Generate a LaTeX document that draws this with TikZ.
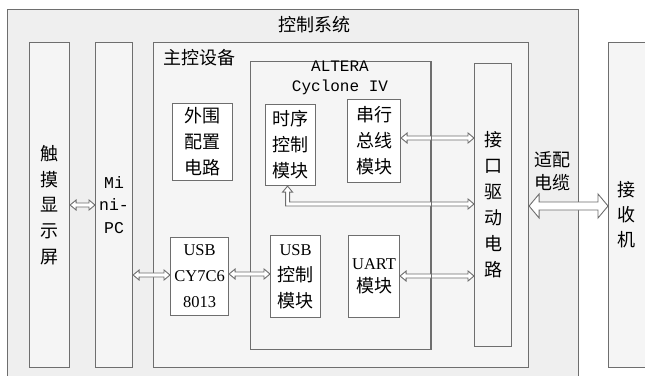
\documentclass[tikz,border=0pt]{standalone}
\usepackage{fontspec}
\setmainfont{Liberation Serif}
\newfontfamily\cjk{Noto Sans CJK SC}
\newfontfamily\mono{Liberation Mono}
\usetikzlibrary{calc}
\definecolor{edge}{HTML}{6E6E6E}
\definecolor{outerfill}{HTML}{EFEFEF}
\definecolor{bigfill}{HTML}{F5F5F5}
\tikzset{
  box/.style={draw=edge, line width=1.1pt, fill=white, inner sep=0pt, align=center,
    anchor=north west, font=\cjk\fontsize{18}{26}\selectfont},
  bigbox/.style={box, fill=bigfill},
  lbl/.style={inner sep=0pt, font=\cjk\fontsize{18}{22}\selectfont},
  arr/.style={draw=edge, fill=white, line width=0.9pt, line join=miter},
}
% hollow double arrow: from, to, y, shaft half, head half, head length
\newcommand\harr[6]{%
  \path[arr] let \p1=(#1), \p2=(#2), \p3=(0,#3) in
    (\x1,\y3) -- (\x1+#6,\y3+#5) -- (\x1+#6,\y3+#4) -- (\x2-#6,\y3+#4) -- (\x2-#6,\y3+#5)
    -- (\x2,\y3) -- (\x2-#6,\y3-#5) -- (\x2-#6,\y3-#4) -- (\x1+#6,\y3-#4) -- (\x1+#6,\y3-#5) -- cycle;}
\begin{document}
\begin{tikzpicture}[x=1pt,y=-1pt]
\useasboundingbox (0,0) rectangle (645,375);
\clip (0,0) rectangle (645,375);
\fill[white] (0,0) rectangle (645,375);
% control system
\node[box, fill=outerfill, minimum width=571, minimum height=390] (sys) at (7,9) {};
\node[lbl] (systitle) at (314,25) {控制系统};
% touch screen and mini-PC
\node[bigbox, minimum width=40, minimum height=325, font=\cjk\fontsize{18}{25.7}\selectfont] (touch) at (29,42) {触\\摸\\显\\示\\屏};
\node[bigbox, minimum width=37, minimum height=325, font=\mono\fontsize{16.5}{22.5}\selectfont] (mpc) at (95,42) {Mi\\ni-\\PC};
% main controller
\node[bigbox, minimum width=375, minimum height=325] (main) at (153,42) {};
\node[lbl, anchor=west] (maintitle) at (163,58) {主控设备};
% FPGA
\node[bigbox, minimum width=180, minimum height=288] (alt) at (250,61) {};
\node[inner sep=0pt, align=center, font=\mono\fontsize{16}{20}\selectfont] (alttitle) at (340,78) {ALTERA\\Cyclone IV};
% small boxes
\node[box, minimum width=60, minimum height=77] (wp) at (172,103) {外围\\配置\\电路};
\node[box, minimum width=50, minimum height=81] (ts) at (265,104) {时序\\控制\\模块};
\node[box, minimum width=53, minimum height=83] (cx) at (347,99) {串行\\总线\\模块};
\node[box, minimum width=58, minimum height=78, font=\rmfamily\fontsize{16.5}{26}\selectfont] (usb) at (170,237) {USB\\CY7C6\\8013};
\node[box, minimum width=50, minimum height=82] (uc) at (270,235) {{\rmfamily\fontsize{16.5}{26}\selectfont USB}\\控制\\模块};
\node[box, minimum width=51, minimum height=82, font=\cjk\fontsize{18}{23}\selectfont] (uart) at (348,235) {{\rmfamily\fontsize{16.5}{23}\selectfont UART}\\模块};
% interface driver
\node[bigbox, minimum width=37, minimum height=283] (jk) at (474,63) {接\\口\\驱\\动\\电\\路};
% receiver
\node[bigbox, minimum width=38, minimum height=325] (rx) at (608,42) {};
\node[inner sep=0pt, align=center, font=\cjk\fontsize{18}{25}\selectfont] (rxt) at (626,215) {接\\收\\机};
% cable label
\node[inner sep=0pt, align=center, font=\cjk\fontsize{18}{23}\selectfont] (cable) at (552,171) {适配\\电缆};
% arrows
\harr{touch.east}{mpc.west}{205}{2pt}{5pt}{6pt}
\harr{mpc.east}{usb.west}{275}{2pt}{5pt}{6pt}
\harr{usb.east}{uc.west}{274}{2pt}{5pt}{6pt}
\harr{cx.east}{jk.west}{138}{2pt}{5pt}{6pt}
\harr{uart.east}{jk.west}{276}{2pt}{5pt}{6pt}
\harr{main.east}{rx.west}{206}{4pt}{12pt}{10pt}
\path[arr] let \p1=($(ts.south)+(-3,0)$), \p2=(jk.west), \p3=(0,204) in
  (\x1,\y1) -- (\x1+5pt,\y1-6pt) -- (\x1+2pt,\y1-6pt) -- (\x1+2pt,\y3+2pt)
  -- (\x2-6pt,\y3+2pt) -- (\x2-6pt,\y3+5pt) -- (\x2,\y3) -- (\x2-6pt,\y3-5pt)
  -- (\x2-6pt,\y3-2pt) -- (\x1-2pt,\y3-2pt) -- (\x1-2pt,\y1-6pt) -- (\x1-5pt,\y1-6pt) -- cycle;
% FPGA right edge is drawn over the L-shaped arrow in the reference
\draw[edge, line width=1.1pt] (alt.north east) -- (alt.south east);
\end{tikzpicture}
\end{document}
